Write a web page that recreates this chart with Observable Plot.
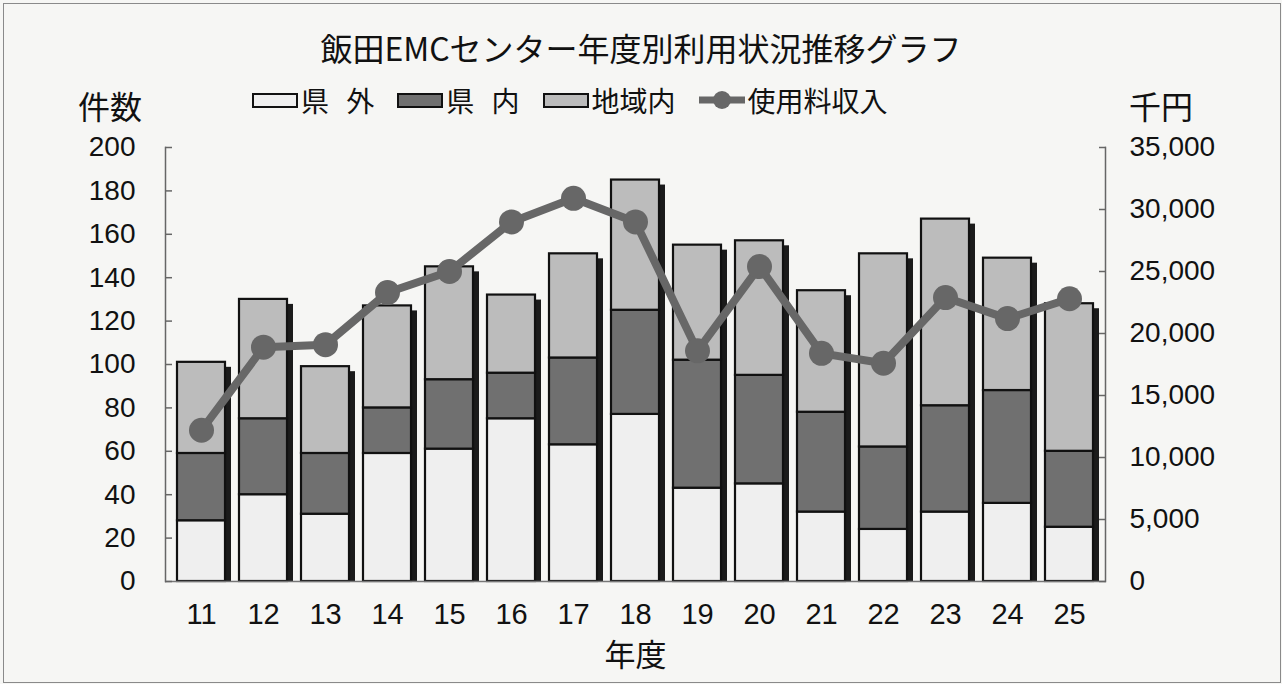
<!DOCTYPE html>
<html>
<head>
<meta charset="utf-8">
<script src="https://cdn.jsdelivr.net/npm/d3@7"></script>
<script src="https://cdn.jsdelivr.net/npm/@observablehq/plot@0.6"></script>
<style>
  html, body { margin: 0; padding: 0; background: #f6f6f4; }
  #wrap { position: relative; width: 1282px; height: 684px; overflow: hidden;
          font-family: "Liberation Sans", "Noto Sans CJK JP", sans-serif; color: #111; }
  #border { position: absolute; left: 3px; top: 3px; width: 1276px; height: 678px;
            border: 1.5px solid #8a8a8a; pointer-events: none; }
  #title { position: absolute; top: 26px; left: 0; width: 1282px; text-align: center;
           font-family: "Noto Sans CJK JP", sans-serif; font-size: 32px; line-height: 42px; }
  #legend { position: absolute; top: 84px; left: 252px; height: 32px; display: flex; align-items: center;
            font-family: "Noto Sans CJK JP", sans-serif; font-size: 28px; line-height: 32px; white-space: nowrap; }
  #legend .sw { display: inline-block; width: 42px; height: 11px; border: 2px solid #111; }
  #legend .item { display: flex; align-items: center; margin-right: 23px; }
  #legend .lbl { margin-left: 3px; word-spacing: 11px; }
  .ytitle { position: absolute; font-family: "Noto Sans CJK JP", sans-serif; font-size: 32px; line-height: 32px; }
  #chart { position: absolute; left: 0; top: 120px; }
</style>
</head>
<body>
<div id="wrap">
  <div id="title"></div>
  <div id="legend"></div>
  <div class="ytitle" id="yl" style="left:78px; top:89px;"></div>
  <div class="ytitle" id="yr" style="left:1129px; top:89px;"></div>
  <div id="chart"></div>
  <div id="border"></div>
</div>
<script>
// ---- data ----
const years = ["11","12","13","14","15","16","17","18","19","20","21","22","23","24","25"];
const kengai = [28, 40, 31, 59, 61, 75, 63, 77, 43, 45, 32, 24, 32, 36, 25];   // 県 外
const kennai = [31, 35, 28, 21, 32, 21, 40, 48, 59, 50, 46, 38, 49, 52, 35];   // 県 内
const chiiki = [42, 55, 40, 47, 52, 36, 48, 60, 53, 62, 56, 89, 86, 61, 68];   // 地域内
const income = [12200, 18900, 19100, 23300, 25000, 29000, 30900, 29000, 18600, 25400, 18400, 17600, 22900, 21200, 22800]; // 使用料収入 (千円)
const seriesNames = ["県 外", "県 内", "地域内"];
const lineName = "使用料収入";
const leftTicks = [0, 20, 40, 60, 80, 100, 120, 140, 160, 180, 200];
const rightTicks = [0, 5000, 10000, 15000, 20000, 25000, 30000, 35000];
const titleText = "飯田EMCセンター年度別利用状況推移グラフ";
const leftTitle = "件数";
const rightTitle = "千円";
const xTitle = "年度";

// ---- styles ----
const colors = ["#efefef", "#707070", "#bcbcbc"];
const lineColor = "#676767";
const leftMax = 200, rightMax = 35000;
const toLeft = v => v * leftMax / rightMax;
const numFont = "Liberation Sans Narrow, Liberation Sans, sans-serif";

// ---- build tables ----
const seriesValues = [kengai, kennai, chiiki];
const stacked = [];
seriesNames.forEach((s, si) => years.forEach((y, i) => stacked.push({year: y, series: s, value: seriesValues[si][i]})));
const totals = years.map((y, i) => ({year: y, total: kengai[i] + kennai[i] + chiiki[i]}));
const incomeData = years.map((y, i) => ({year: y, income: income[i]}));

document.getElementById("title").textContent = titleText;
document.getElementById("yl").textContent = leftTitle;
document.getElementById("yr").textContent = rightTitle;

// legend
const legend = document.getElementById("legend");
seriesNames.forEach((s, i) => {
  const it = document.createElement("div"); it.className = "item";
  const sw = document.createElement("span"); sw.className = "sw"; sw.style.background = colors[i];
  const lb = document.createElement("span"); lb.className = "lbl"; lb.textContent = s;
  it.append(sw, lb); legend.append(it);
});
{
  const it = document.createElement("div"); it.className = "item";
  it.innerHTML = `<svg width="46" height="24" style="display:block"><line x1="0" y1="12" x2="46" y2="12" stroke="${lineColor}" stroke-width="7"/><circle cx="23" cy="12" r="9" fill="${lineColor}"/></svg>`;
  const lb = document.createElement("span"); lb.className = "lbl"; lb.textContent = lineName;
  it.append(lb); legend.append(it);
}

const fmt = d3.format(",");

const chart = Plot.plot({
  width: 1282,
  height: 564,
  marginTop: 27,
  marginBottom: 103,
  marginLeft: 165,
  marginRight: 177,
  style: {background: "transparent", fontFamily: numFont, fontSize: "28px", color: "#111"},
  x: {domain: years, paddingInner: 0.23, paddingOuter: 0.115, label: null},
  y: {domain: [0, leftMax], label: null},
  color: {domain: seriesNames, range: colors},
  marks: [
    // shadows
    Plot.barY(totals, {x: "year", y1: 0, y2: "total", dx: 6, insetTop: 5, fill: "#1b1b1b"}),
    // stacked bars
    Plot.barY(stacked, {x: "year", y: "value", fill: "series", order: seriesNames, stroke: "#111", strokeWidth: 2.2}),
    // axes lines
    Plot.frame({anchor: "left", stroke: "#666", strokeWidth: 1.5}),
    Plot.frame({anchor: "right", stroke: "#666", strokeWidth: 1.5}),
    Plot.ruleY([0], {stroke: "#777", strokeWidth: 1.5}),
    // left axis
    Plot.axisY(leftTicks, {anchor: "left", tickSize: -7, tickPadding: 37, stroke: "#666", strokeWidth: 1.5, fill: "#111", fontSize: 28, label: null}),
    // right axis (income)
    Plot.axisY(rightTicks.map(toLeft), {anchor: "right", tickSize: -7, tickPadding: 31, stroke: "#666", strokeWidth: 1.5, fill: "#111", fontSize: 28, tickFormat: d => fmt(Math.round(d * rightMax / leftMax)), label: null}),
    // x axis
    Plot.axisX({anchor: "bottom", tickSize: 0, tickPadding: 22, fill: "#111", fontSize: 29, label: null}),
    Plot.text([xTitle], {frameAnchor: "bottom", dy: 84, fontSize: 31, fontFamily: "Noto Sans CJK JP", fill: "#111"}),
    // income line
    Plot.line(incomeData, {x: "year", y: d => toLeft(d.income), stroke: lineColor, strokeWidth: 8}),
    Plot.dot(incomeData, {x: "year", y: d => toLeft(d.income), r: 12.5, fill: lineColor, stroke: "none"})
  ]
});
document.getElementById("chart").append(chart);
</script>
</body>
</html>
